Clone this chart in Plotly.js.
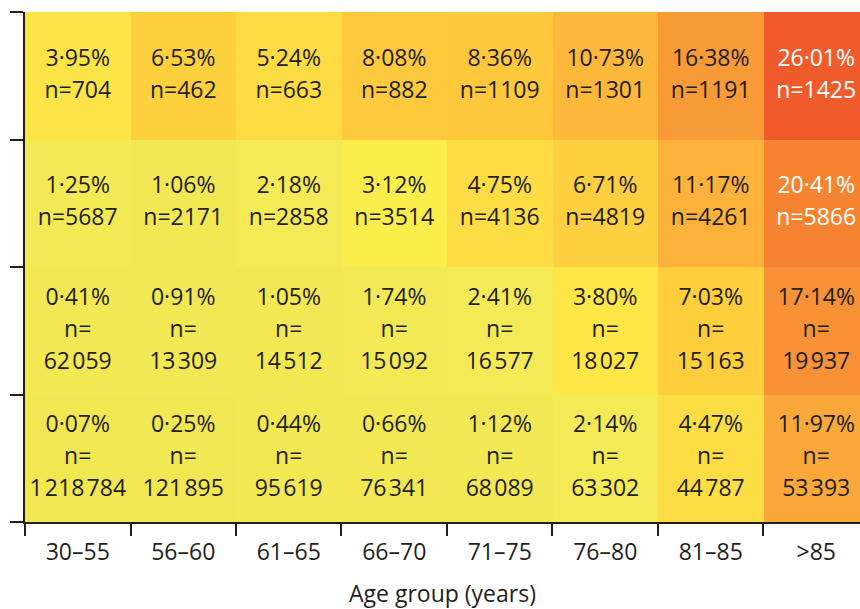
<!DOCTYPE html>
<html>
<head>
<meta charset="utf-8">
<script src="https://cdn.plot.ly/plotly-3.0.1.min.js"></script>
<style>html,body{margin:0;padding:0;background:#fff;}#chart{width:860px;height:609px;}</style>
</head>
<body>
<div id="chart"></div>
<script>
// Age groups (x categories)
const ageGroups = ['30–55', '56–60', '61–65', '66–70', '71–75', '76–80', '81–85', '>85'];

// Rows from top (highest risk) to bottom (lowest risk)
const pctRow1 = [3.95, 6.53, 5.24, 8.08, 8.36, 10.73, 16.38, 26.01];
const nRow1   = [704, 462, 663, 882, 1109, 1301, 1191, 1425];
const pctRow2 = [1.25, 1.06, 2.18, 3.12, 4.75, 6.71, 11.17, 20.41];
const nRow2   = [5687, 2171, 2858, 3514, 4136, 4819, 4261, 5866];
const pctRow3 = [0.41, 0.91, 1.05, 1.74, 2.41, 3.80, 7.03, 17.14];
const nRow3   = [62059, 13309, 14512, 15092, 16577, 18027, 15163, 19937];
const pctRow4 = [0.07, 0.25, 0.44, 0.66, 1.12, 2.14, 4.47, 11.97];
const nRow4   = [1218784, 121895, 95619, 76341, 68089, 63302, 44787, 53393];

// colour stops (percentage value -> colour)
const stopValues = [0, 2.4, 3.12, 3.8, 4.47, 5.24, 6.53, 8.08, 10.73, 11.97, 16.38, 17.14, 20.41, 26.01];
const stopColors = ['#f1e751', '#f3ea56', '#fbee4a', '#fde646', '#fddd44', '#fddb43', '#fed03e', '#fec93c', '#fdb73a', '#faa83a', '#f89a35', '#f79135', '#f5832f', '#f05b2c'];

const zmax = stopValues[stopValues.length - 1];
const colorscale = stopValues.map((v, i) => [v / zmax, stopColors[i]]);

// bottom-to-top order for the numeric y axis
const pctRows = [pctRow4, pctRow3, pctRow2, pctRow1];
const nRows = [nRow4, nRow3, nRow2, nRow1];
const yRows = [0, 1, 2, 3];

function fmtPct(v) { return v.toFixed(2).replace('.', '·') + '%'; }
function fmtN(n) {
  const s = String(n);
  if (n < 10000) return 'n=' + s;
  // narrow gap between digit groups
  const grouped = s.replace(/\B(?=(\d{3})+(?!\d))/g, '\u200A');
  return 'n=<br>' + grouped;
}
function sized(str) {
  return str.split('<br>').map(l => '<span style="font-size:23px">' + l + '</span>').join('<br>');
}

const tx = [], ty = [], tt = [], tc = [];
yRows.forEach((yv, r) => {
  ageGroups.forEach((g, c) => {
    tx.push(g); ty.push(yv);
    tt.push(sized(fmtPct(pctRows[r][c]) + '<br>' + fmtN(nRows[r][c])));
    tc.push(pctRows[r][c] >= 20 ? '#ffffff' : '#231f20');
  });
});

const heat = {
  type: 'heatmap',
  x: ageGroups,
  y: yRows,
  z: pctRows,
  zmin: 0,
  zmax: zmax,
  colorscale: colorscale,
  showscale: false,
  hoverinfo: 'skip'
};

const labels = {
  type: 'scatter',
  mode: 'text',
  x: tx,
  y: ty,
  text: tt,
  textposition: 'middle center',
  textfont: { family: 'Open Sans, sans-serif', size: 24.6, color: tc },
  hoverinfo: 'skip',
  showlegend: false
};

const layout = {
  width: 860,
  height: 609,
  margin: { l: 25, r: 0, t: 12, b: 87 },
  paper_bgcolor: '#ffffff',
  plot_bgcolor: '#ffffff',
  showlegend: false,
  font: { family: 'Open Sans, sans-serif', color: '#231f20' },
  xaxis: {
    type: 'category',
    range: [-0.5, 7.415],
    tickson: 'boundaries',
    ticks: 'outside',
    ticklen: 12,
    tickwidth: 2,
    tickcolor: '#231f20',
    ticklabelstandoff: 8,
    showline: true,
    linewidth: 2,
    linecolor: '#231f20',
    showgrid: false,
    zeroline: false,
    tickfont: { size: 23, color: '#231f20' },
    title: { text: 'Age group (years)', font: { size: 23, color: '#231f20' }, standoff: 26 }
  },
  yaxis: {
    range: [-0.5, 3.5],
    tickvals: [-0.5, 0.5, 1.5, 2.5, 3.5],
    ticks: 'outside',
    ticklen: 13,
    tickwidth: 2,
    tickcolor: '#231f20',
    showticklabels: false,
    showline: true,
    linewidth: 2,
    linecolor: '#231f20',
    showgrid: false,
    zeroline: false
  }
};

Plotly.newPlot('chart', [heat, labels], layout, { displayModeBar: false, staticPlot: true });
</script>
</body>
</html>
